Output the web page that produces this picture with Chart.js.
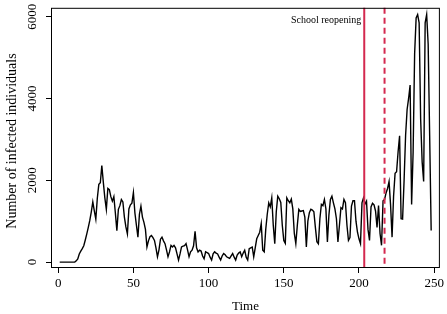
<!DOCTYPE html>
<html>
<head>
<meta charset="utf-8">
<script src="https://cdn.jsdelivr.net/npm/chart.js@4"></script>
<style>
  html, body { margin: 0; padding: 0; background: #fff; }
  #wrap { width: 447px; height: 314px; position: relative; }
</style>
</head>
<body>
<div id="wrap"><canvas id="myChart1"></canvas></div>
<script>
// daily counts, day 1 .. 248
const infected = [
  0, 0, 0, 0, 0, 0, 0, 0, 0, 0, 0,
  30, 80, 200, 270, 330, 400, 540, 690, 850,
  1020, 1230, 1470, 1250, 1050, 1560, 1900, 1940, 2360, 1950,
  1570, 1290, 1800, 1770, 1600, 1490, 1600, 1200, 770, 1290,
  1380, 1530, 1470, 1100, 860, 690, 1300, 1400, 1440, 1700,
  1200, 900, 610, 1170, 1370, 1100, 970, 800, 370, 520,
  620, 650, 600, 530, 350, 130, 300, 560, 610, 520,
  450, 300, 130, 250, 410, 370, 410, 350, 200, 50,
  200, 370, 390, 400, 450, 300, 130, 250, 290, 400,
  750, 350, 250, 290, 270, 150, 80, 250, 230, 210,
  120, 50, 200, 250, 220, 200, 120, 50, 150, 210,
  180, 130, 110, 90, 150, 210, 120, 50, 170, 220,
  250, 130, 220, 290, 120, 50, 330, 350, 370, 130,
  350, 570, 650, 730, 940, 290, 250, 800, 1170, 1450,
  1350, 1570, 900, 450, 1230, 1610, 1550, 1460, 900, 530,
  460, 1570, 1500, 1450, 1540, 1300, 700, 450, 900, 1290,
  1240, 1250, 1260, 1100, 370, 1000, 1210, 1290, 1270, 1230,
  850, 500, 450, 1060, 1410, 1380, 1530, 1300, 490, 1150,
  1530, 1610, 1450, 1300, 1060, 490, 900, 1330, 1300, 1530,
  1450, 900, 530, 600, 1370, 1500, 1500, 1000, 730, 570,
  450, 1450, 1570, 1420, 1490, 800, 530, 1350, 1440, 1400,
  1250, 850, 1380, 700, 410, 1500, 1530, 1690, 1800, 1970,
  1400, 610, 1610, 2170, 2210, 2690, 3090, 1060, 1050, 2000,
  3100, 3730, 4000, 4330, 1410, 2690, 5090, 5970, 6050, 5850,
  3500, 2450, 1970, 5850, 6050, 5330, 3090, 770
];
const days = infected.map((v, i) => i + 1);

const xTicks = [0, 50, 100, 150, 200, 250];
const yTicks = [0, 2000, 4000, 6000];

const reopenDay = 203.5;   // solid line
const secondDay = 217;     // dashed line
const reopenLabel = 'School reopening';
const yTitle = 'Number of infected individuals';

const serif = "'Liberation Serif', 'DejaVu Serif', serif";
const red = '#d4294f';

// box around the plot, the two red lines, the label and the y title
const boxPlugin = {
    id: 'box',
    afterDatasetsDraw(chart) {
        const {ctx, chartArea: a, scales: {x}} = chart;
        ctx.save();
        ctx.strokeStyle = red;
        ctx.lineWidth = 2;
        let px = x.getPixelForValue(reopenDay);
        ctx.beginPath();
        ctx.moveTo(px, a.top);
        ctx.lineTo(px, a.bottom);
        ctx.stroke();
        px = x.getPixelForValue(secondDay);
        ctx.setLineDash([6, 4]);
        ctx.beginPath();
        ctx.moveTo(px, a.top);
        ctx.lineTo(px, a.bottom);
        ctx.stroke();
        ctx.setLineDash([]);

        ctx.fillStyle = '#000';
        ctx.font = '10px ' + serif;
        ctx.textAlign = 'right';
        ctx.textBaseline = 'middle';
        ctx.fillText(reopenLabel, x.getPixelForValue(reopenDay) - 3, 20);

        // y title
        ctx.font = '14px ' + serif;
        ctx.textAlign = 'center';
        ctx.translate(12, 141);
        ctx.rotate(-Math.PI / 2);
        ctx.fillText(yTitle, 0, 0);
        ctx.setTransform(1, 0, 0, 1, 0, 0);

        ctx.strokeStyle = '#000';
        ctx.lineWidth = 1;
        ctx.strokeRect(a.left + 0.5, a.top + 0.5, a.right - a.left - 1, a.bottom - a.top - 1);
        ctx.restore();
    }
};

const ctx = document.getElementById('myChart1').getContext('2d');
const myChart1 = new Chart(ctx, {
    type: 'line',
    data: {
        labels: days,
        datasets: [{
            data: days.map((d, i) => ({x: d, y: infected[i]})),
            borderColor: '#000',
            borderWidth: 1.4,
            pointRadius: 0,
            tension: 0,
            fill: false
        }]
    },
    options: {
        responsive: true,
        maintainAspectRatio: false,
        animation: false,
        devicePixelRatio: 1,
        layout: { padding: { left: 0, right: 5, top: 3, bottom: 0 } },
        plugins: { legend: { display: false }, tooltip: { enabled: false } },
        scales: {
            x: {
                type: 'linear',
                min: -4.8,
                max: 253.8,
                afterBuildTicks: s => { s.ticks = xTicks.map(v => ({value: v})); },
                afterFit: s => { s.height = 46; },
                border: { display: false },
                grid: { drawOnChartArea: false, drawTicks: true, tickLength: 5, color: '#000' },
                ticks: { color: '#000', padding: 3, maxRotation: 0, callback: v => String(v),
                         font: { family: serif, size: 13 } },
                title: { display: true, text: 'Time', color: '#000', padding: { top: 0, bottom: 0 },
                         font: { family: serif, size: 13 } }
            },
            y: {
                min: -144,
                max: 6216,
                afterBuildTicks: s => { s.ticks = yTicks.map(v => ({value: v})); },
                afterFit: s => { s.width = 51; },
                border: { display: false },
                grid: { drawOnChartArea: false, drawTicks: true, tickLength: 5, color: '#000' },
                ticks: { color: '#000', padding: 0, minRotation: 90, maxRotation: 90, crossAlign: 'center',
                         callback: v => String(v), font: { family: serif, size: 13 } },
                title: { display: false }
            }
        }
    },
    plugins: [boxPlugin]
});
</script>
</body>
</html>
